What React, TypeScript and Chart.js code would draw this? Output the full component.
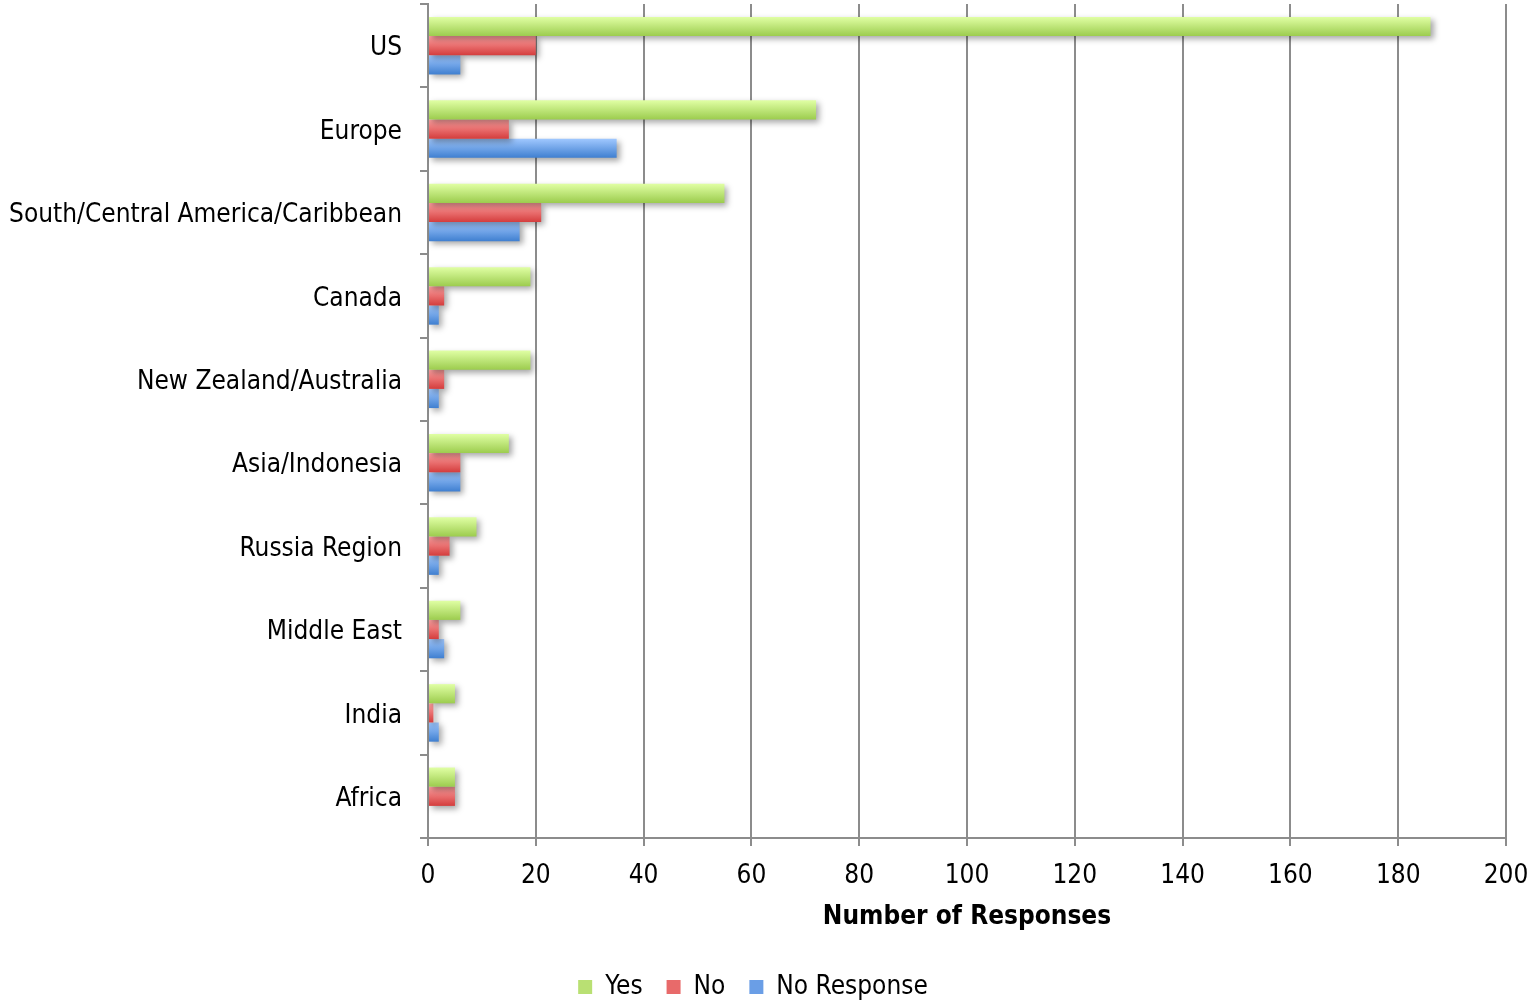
import React, { useEffect, useRef } from "react";
import { Chart, registerables } from "chart.js";

Chart.register(...registerables);

const categories = [
  "US",
  "Europe",
  "South/Central America/Caribbean",
  "Canada",
  "New Zealand/Australia",
  "Asia/Indonesia",
  "Russia Region",
  "Middle East",
  "India",
  "Africa",
];
const yesValues = [186, 72, 55, 19, 19, 15, 9, 6, 5, 5];
const noValues = [20, 15, 21, 3, 3, 6, 4, 2, 1, 5];
const noResponseValues = [6, 35, 17, 2, 2, 6, 2, 3, 2, 0];
const seriesNames = ["Yes", "No", "No Response"];
const xTickValues = [0, 20, 40, 60, 80, 100, 120, 140, 160, 180, 200];

const FONT = "'DejaVu Sans Condensed', 'DejaVu Sans', sans-serif";
const FS = 26;
const CAT_PCT = 0.69;
const GRID = "#8c8c8c";

const palette = [
  { top: "#e0ffa4", bottom: "#9ccc4e", flat: "#b9e073" },
  { top: "#ffa0a0", bottom: "#d43d3d", flat: "#e86a6a" },
  { top: "#a0c8ff", bottom: "#3f7fd0", flat: "#6a9ee6" },
];

function gradientFill(i: number) {
  return (ctx: any) => {
    const chart = ctx.chart;
    const ys = chart.scales && chart.scales.y;
    if (!ys || ctx.dataIndex === undefined || !chart.chartArea) return palette[i].flat;
    const center = ys.getPixelForValue(ctx.dataIndex);
    const band = ys.height / categories.length;
    const group = band * CAT_PCT;
    const h = group / 3;
    const t = center - group / 2 + ctx.datasetIndex * h;
    const g = chart.ctx.createLinearGradient(0, t, 0, t + h);
    g.addColorStop(0, palette[i].top);
    g.addColorStop(1, palette[i].bottom);
    return g;
  };
}

const shadowPlugin = {
  id: "barShadow",
  beforeDatasetsDraw(chart: any) {
    const c = chart.ctx;
    c.save();
    c.shadowColor = "rgba(0,0,0,0.35)";
    c.shadowBlur = 6;
    c.shadowOffsetX = 3;
    c.shadowOffsetY = 3;
  },
  afterDatasetsDraw(chart: any) {
    chart.ctx.restore();
  },
};

export default function App() {
  const ref = useRef<HTMLCanvasElement | null>(null);
  useEffect(() => {
    document.body.style.margin = "0";
    const canvas = ref.current;
    if (!canvas) return;
    const seriesValues = [yesValues, noValues, noResponseValues];
    const chart = new Chart(canvas, {
      type: "bar",
      data: {
        labels: categories,
        datasets: seriesNames.map((name, i) => ({
          label: name,
          data: seriesValues[i],
          backgroundColor: gradientFill(i),
          borderWidth: 0,
          categoryPercentage: CAT_PCT,
          barPercentage: 1,
        })),
      },
      options: {
        indexAxis: "y",
        animation: false,
        responsive: false,
        maintainAspectRatio: false,
        layout: { padding: { top: 4, right: 30, bottom: 0, left: 0 } },
        plugins: {
          tooltip: { enabled: false },
          legend: {
            position: "bottom",
            labels: {
              boxWidth: 14,
              boxHeight: 14,
              padding: 24,
              color: "#000",
              font: { family: FONT, size: FS },
              generateLabels: () =>
                seriesNames.map((n, i) => ({
                  text: n,
                  fillStyle: palette[i].flat,
                  strokeStyle: palette[i].flat,
                  lineWidth: 0,
                  hidden: false,
                  datasetIndex: i,
                })),
            },
          },
        },
        scales: {
          x: {
            type: "linear",
            min: 0,
            max: 200,
            afterBuildTicks: (scale: any) => {
              scale.ticks = xTickValues.map((v) => ({ value: v }));
            },
            afterFit: (scale: any) => {
              scale.height = 112;
              scale.paddingLeft = 0;
              scale.paddingRight = 0;
            },
            grid: { color: GRID, lineWidth: 2, tickLength: 8 },
            border: { color: GRID, width: 2 },
            ticks: {
              color: "#000",
              padding: 15,
              font: { family: FONT, size: FS },
            },
            title: {
              display: true,
              text: "Number of Responses",
              color: "#000",
              font: { family: FONT, size: FS, weight: "bold" },
              padding: { top: 0, bottom: 17 },
            },
          },
          y: {
            type: "category",
            afterFit: (scale: any) => {
              scale.width = 428;
              scale.paddingTop = 0;
              scale.paddingBottom = 0;
            },
            grid: {
              drawOnChartArea: false,
              color: GRID,
              lineWidth: 2,
              tickLength: 8,
              offset: true,
            },
            border: { color: GRID, width: 2 },
            ticks: {
              color: "#000",
              padding: 18,
              labelOffset: 3,
              font: { family: FONT, size: FS },
            },
          },
        },
      },
      plugins: [shadowPlugin],
    });
    return () => chart.destroy();
  }, []);
  return (
    <div style={{ position: "fixed", left: 0, top: 0, width: 1536, height: 1010 }}>
      <canvas ref={ref} width={1536} height={1010} style={{ display: "block" }} />
    </div>
  );
}
